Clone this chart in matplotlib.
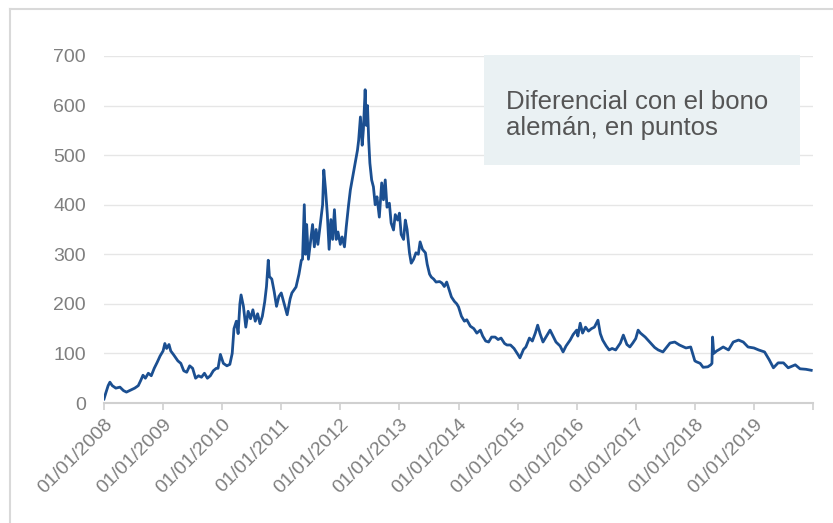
import matplotlib
matplotlib.use("Agg")
import matplotlib.pyplot as plt
from matplotlib.patches import Rectangle
from matplotlib.lines import Line2D
import numpy as np

# fecha en años decimales y diferencial en puntos básicos
fecha = [
    2008.00, 2008.03, 2008.07, 2008.10, 2008.14, 2008.20, 2008.27, 2008.33, 2008.38, 2008.45,
    2008.52, 2008.58, 2008.62, 2008.66, 2008.70, 2008.75, 2008.80, 2008.85, 2008.90, 2008.95,
    2009.00, 2009.03, 2009.06, 2009.10, 2009.13, 2009.18, 2009.25, 2009.30, 2009.35, 2009.40,
    2009.45, 2009.50, 2009.55, 2009.60, 2009.65, 2009.70, 2009.75, 2009.80, 2009.85, 2009.90,
    2009.93, 2009.97, 2010.02, 2010.08, 2010.13, 2010.17, 2010.20, 2010.24, 2010.27, 2010.30,
    2010.32, 2010.36, 2010.40, 2010.44, 2010.48, 2010.52, 2010.56, 2010.60, 2010.64, 2010.68,
    2010.72, 2010.75, 2010.78, 2010.80, 2010.84, 2010.88, 2010.92, 2010.96, 2011.00, 2011.05,
    2011.10, 2011.15, 2011.18, 2011.25, 2011.30, 2011.34, 2011.36, 2011.39, 2011.41, 2011.43,
    2011.46, 2011.50, 2011.53, 2011.56, 2011.59, 2011.62, 2011.66, 2011.70, 2011.72, 2011.75,
    2011.78, 2011.81, 2011.84, 2011.87, 2011.90, 2011.93, 2011.96, 2012.00, 2012.03, 2012.07,
    2012.10, 2012.14, 2012.17, 2012.20, 2012.25, 2012.29, 2012.31, 2012.34, 2012.37, 2012.39,
    2012.42, 2012.44, 2012.46, 2012.48, 2012.50, 2012.53, 2012.56, 2012.59, 2012.62, 2012.66,
    2012.70, 2012.73, 2012.76, 2012.79, 2012.83, 2012.86, 2012.90, 2012.93, 2012.97, 2013.00,
    2013.03, 2013.07, 2013.10, 2013.13, 2013.17, 2013.20, 2013.24, 2013.28, 2013.32, 2013.35,
    2013.39, 2013.44, 2013.47, 2013.51, 2013.54, 2013.58, 2013.62, 2013.68, 2013.72, 2013.76,
    2013.80, 2013.85, 2013.88, 2013.93, 2013.97, 2014.00, 2014.05, 2014.10, 2014.14, 2014.20,
    2014.26, 2014.31, 2014.37, 2014.41, 2014.46, 2014.51, 2014.56, 2014.62, 2014.67, 2014.72,
    2014.78, 2014.82, 2014.88, 2014.94, 2015.01, 2015.04, 2015.10, 2015.14, 2015.20, 2015.25,
    2015.30, 2015.34, 2015.38, 2015.43, 2015.49, 2015.55, 2015.60, 2015.65, 2015.72, 2015.77,
    2015.82, 2015.89, 2015.94, 2016.00, 2016.02, 2016.06, 2016.10, 2016.15, 2016.20, 2016.25,
    2016.30, 2016.36, 2016.40, 2016.44, 2016.50, 2016.55, 2016.60, 2016.66, 2016.74, 2016.79,
    2016.85, 2016.90, 2016.95, 2017.00, 2017.04, 2017.08, 2017.16, 2017.25, 2017.32, 2017.38,
    2017.46, 2017.52, 2017.58, 2017.66, 2017.74, 2017.85, 2017.93, 2017.97, 2018.00, 2018.03,
    2018.09, 2018.14, 2018.22, 2018.27, 2018.29, 2018.30, 2018.32, 2018.37, 2018.40, 2018.48,
    2018.57, 2018.65, 2018.74, 2018.82, 2018.90, 2019.00, 2019.08, 2019.18, 2019.26, 2019.33,
    2019.41, 2019.50, 2019.58, 2019.70, 2019.78, 2019.88, 2019.97,
]
diferencial = [
    8, 20, 35, 42, 35, 30, 32, 25, 22, 26,
    30, 35, 45, 56, 50, 60, 55, 70, 82, 95,
    105, 120, 110, 118, 105, 97, 85, 80, 65, 62,
    75, 70, 50, 55, 52, 60, 50, 55, 65, 70,
    70, 98, 80, 75, 78, 100, 150, 165, 140, 200,
    218, 195, 153, 185, 170, 188, 165, 180, 160, 175,
    204, 235, 288, 255, 250, 225, 195, 215, 222, 200,
    178, 210, 222, 234, 260, 288, 290, 400, 300, 360,
    290, 330, 360, 315, 350, 320, 360, 400, 470, 430,
    380, 310, 370, 330, 390, 330, 345, 320, 335, 315,
    355, 400, 430, 450, 484, 510, 530, 577, 520, 551,
    632, 560, 600, 530, 484, 450, 436, 400, 416, 375,
    444, 410, 450, 395, 403, 363, 349, 380, 369, 383,
    340, 330, 369, 350, 303, 282, 290, 303, 300, 325,
    310, 303, 280, 260, 254, 250, 244, 245, 242, 235,
    244, 225, 214, 205, 200, 194, 175, 165, 168, 155,
    150, 141, 147, 135, 125, 123, 133, 133, 128, 131,
    120, 117, 117, 110, 97, 91, 108, 113, 131, 125,
    141, 157, 140, 123, 135, 147, 135, 123, 115, 103,
    115, 127, 138, 147, 135, 161, 141, 153, 145, 150,
    153, 167, 140, 127, 115, 107, 110, 107, 121, 137,
    118, 113, 121, 130, 147, 141, 133, 121, 112, 107,
    103, 112, 121, 123, 117, 111, 113, 97, 85, 83,
    80, 72, 73, 77, 80, 133, 100, 105, 107, 113,
    107, 123, 127, 123, 113, 111, 107, 103, 87, 71,
    81, 81, 71, 77, 69, 68, 66,
]

anios = list(range(2008, 2021))
etiquetas = ["01/01/%d" % a for a in range(2008, 2020)] + [""]
valores_y = [0, 100, 200, 300, 400, 500, 600, 700]
texto = "Diferencial con el bono\nalemán, en puntos"

plt.rcParams['font.family'] = ['Liberation Sans', 'DejaVu Sans']
gris = '#7f7f7f'

fig = plt.figure(figsize=(8.33, 5.23), dpi=100)
ax = fig.add_axes([104/833, 1 - 403/523, (813-104)/833, (403-56)/523])

ax.plot(fecha, diferencial, color='#1B4F91', lw=2.0, zorder=3)

ax.set_xlim(2008, 2020)
ax.set_ylim(0, 700)
ax.set_yticks(valores_y)
ax.set_yticklabels([str(v) for v in valores_y], fontsize=14, color=gris)
ax.set_xticks(anios)
ax.set_xticklabels(etiquetas, rotation=45, ha='right', rotation_mode='anchor',
                   fontsize=14, color=gris)
ax.tick_params(axis='y', length=0, pad=13)
ax.tick_params(axis='x', length=5, color='#d0d0d0', width=1.2, pad=4)
ax.grid(axis='y', color='#e6e6e6', lw=1)
ax.set_axisbelow(True)
for s in ['top', 'right', 'left']:
    ax.spines[s].set_visible(False)
ax.spines['bottom'].set_color('#d0d0d0')
ax.spines['bottom'].set_linewidth(1.5)

# recuadro con la nota
caja = Rectangle((484/833, 1 - 165/523), (800-484)/833, (165-55)/523,
                 transform=fig.transFigure, facecolor='#eaf1f3', edgecolor='none', zorder=1)
fig.patches.append(caja)
fig.text(506/833, 1 - 115/523, texto, fontsize=18.5, color='#555555',
         va='center', ha='left', linespacing=1.15)

# marco del gráfico
fig.add_artist(Line2D([10/833, 1], [1 - 9/523, 1 - 9/523], transform=fig.transFigure,
                      color='#d9d9d9', lw=1.5))
fig.add_artist(Line2D([10/833, 10/833], [0, 1 - 9/523], transform=fig.transFigure,
                      color='#d9d9d9', lw=1.5))

fig.savefig('out.png', dpi=100)
